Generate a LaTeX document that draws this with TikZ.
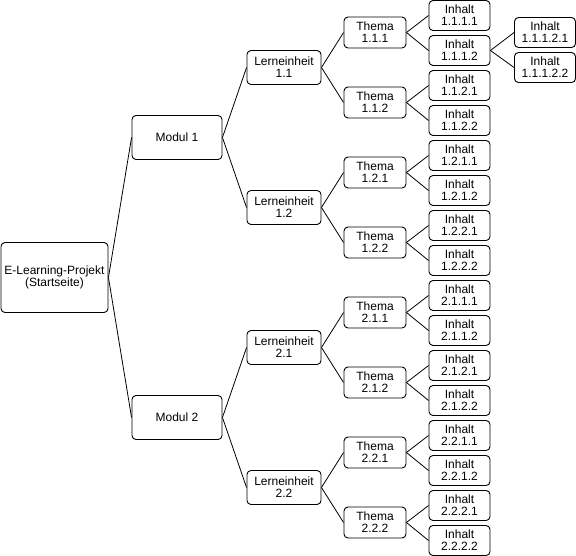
\documentclass[tikz,border=0pt]{standalone}
\usepackage{fontspec}
\setmainfont{Liberation Sans}
\begin{document}
\begin{tikzpicture}[x=1pt,y=-1pt,
  box/.style={draw=black,line width=0.9pt,rounded corners=4pt,fill=white,
    align=center,inner sep=0pt,font=\fontsize{12}{12}\selectfont},
  rootbox/.style={box,minimum width=107pt,minimum height=70pt},
  modbox/.style={box,minimum width=90pt,minimum height=44pt},
  lebox/.style={box,minimum width=74pt,minimum height=34pt},
  thbox/.style={box,minimum width=62pt,minimum height=31pt},
  inbox/.style={box,minimum width=61pt,minimum height=30pt},
  link/.style={draw=black,line width=0.8pt}]
\useasboundingbox (0,0) rectangle (576,555);
\node[rootbox] (root) at (54.5,277.5) {E-Learning-Projekt\\(Startseite)};
\foreach \m in {1,2} {
  \pgfmathsetmacro\ym{137.5+280*(\m-1)}
  \node[modbox] (m\m) at (177,\ym) {Modul \m};
  \draw[link] (root.east) -- (m\m.west);
  \foreach \l in {1,2} {
    \pgfmathsetmacro\yl{67.5+140*((\m-1)*2+\l-1)}
    \node[lebox] (l\m\l) at (284,\yl) {Lerneinheit\\\m.\l};
    \draw[link] (m\m.east) -- (l\m\l.west);
    \foreach \t in {1,2} {
      \pgfmathsetmacro\yt{32.5+70*((\m-1)*4+(\l-1)*2+\t-1)}
      \node[thbox] (t\m\l\t) at (375,\yt) {Thema\\\m.\l.\t};
      \draw[link] (l\m\l.east) -- (t\m\l\t.west);
      \foreach \i in {1,2} {
        \pgfmathsetmacro\yi{15.5+35*((\m-1)*8+(\l-1)*4+(\t-1)*2+\i-1)}
        \node[inbox] (i\m\l\t\i) at (459.5,\yi) {Inhalt\\\m.\l.\t.\i};
        \draw[link] (t\m\l\t.east) -- (i\m\l\t\i.west);
      }
    }
  }
}
\node[inbox] (i11121) at (545,32.5) {Inhalt\\1.1.1.2.1};
\node[inbox] (i11122) at (545,67.5) {Inhalt\\1.1.1.2.2};
\draw[link] (i1112.east) -- (i11121.west);
\draw[link] (i1112.east) -- (i11122.west);
\end{tikzpicture}
\end{document}
